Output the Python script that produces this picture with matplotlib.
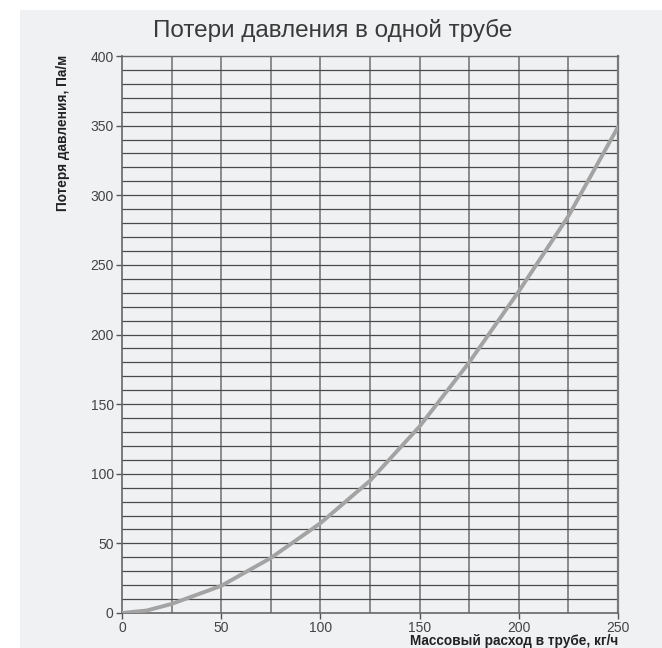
import matplotlib
matplotlib.use("Agg")
import matplotlib.pyplot as plt
from matplotlib.patches import Rectangle
import numpy as np

# Data
flow = [0, 12.5, 25, 50, 75, 100, 125, 150, 175, 200, 225, 250]
loss = [0, 1.8, 6.5, 19.5, 39.5, 64.5, 95, 134, 180, 231, 285, 349]
x_ticks = [0, 50, 100, 150, 200, 250]
y_ticks = [0, 50, 100, 150, 200, 250, 300, 350, 400]

title = "Потери давления в одной трубе"
xlabel = "Массовый расход в трубе, кг/ч"
ylabel = "Потеря давления, Па/м"

plt.rcParams['font.family'] = ['Liberation Sans', 'DejaVu Sans']

W, H = 662, 648
fig = plt.figure(figsize=(W / 100, H / 100), dpi=100)
fig.patch.set_facecolor('white')
bg = '#f0f1f3'
fig.patches.append(Rectangle((20 / W, 0), 1 - 20 / W, 1 - 10 / H,
                             transform=fig.transFigure, facecolor=bg,
                             edgecolor='none', zorder=-10))

left, right, top, bottom = 122 / W, 618 / W, 1 - 56 / H, 1 - 613 / H
ax = fig.add_axes([left, bottom, right - left, top - bottom])
ax.set_facecolor(bg)

ax.set_xlim(0, 250)
ax.set_ylim(0, 400)

# grid
for xv in np.arange(25, 250, 25):
    ax.axvline(xv, color='#7a7a7a', lw=1.2, zorder=1)
for yv in np.arange(10, 400, 10):
    ax.axhline(yv, color='#4a4a4a', lw=0.9, zorder=1)

ax.plot(flow, loss, color='#a3a3a3', lw=2.8, solid_capstyle='round', zorder=3)

ax.set_xticks(x_ticks)
ax.set_yticks(y_ticks)
ax.tick_params(axis='both', direction='out', length=4, width=1,
               colors='#555555', labelsize=10, labelcolor='#444444', pad=2)
for s in ['left', 'bottom']:
    ax.spines[s].set_color('#666666')
    ax.spines[s].set_linewidth(1.2)
ax.spines['top'].set_color('#666666')
ax.spines['top'].set_linewidth(1.0)
ax.spines['right'].set_color('#7a7a7a')
ax.spines['right'].set_linewidth(1.6)

fig.text(333 / W, 1 - 30 / H, title, ha='center', va='center',
         fontsize=17.5, color='#3a3a3a')
fig.text(618 / W, 1 - 641 / H, xlabel, ha='right', va='center',
         fontsize=9.8, fontweight='bold', color='#222222')
fig.text(63 / W, 1 - 55 / H, ylabel, ha='center', va='top', rotation=90,
         fontsize=9.8, fontweight='bold', color='#222222')

fig.savefig('out.png', dpi=100, facecolor='white')
